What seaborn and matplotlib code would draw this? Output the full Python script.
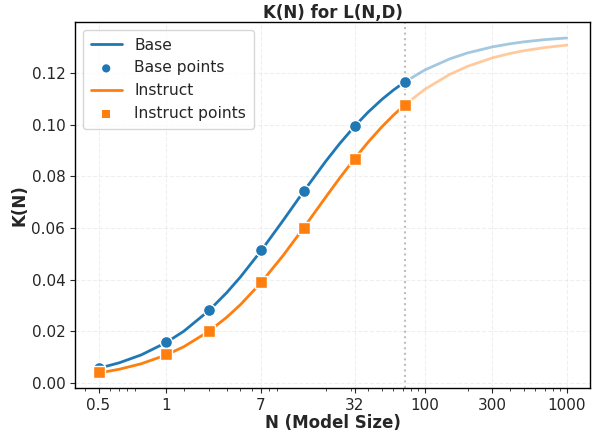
import numpy as np
import pandas as pd
import seaborn as sns
import matplotlib
matplotlib.use("Agg")
import matplotlib.pyplot as plt

# model sizes (B) with measured K(N)
sizes = [0.5, 1.5, 3, 7, 14, 32, 72]
base_points = [0.0058, 0.0160, 0.0281, 0.0514, 0.0743, 0.0995, 0.1165]
instruct_points = [0.0041, 0.0110, 0.0201, 0.0389, 0.0599, 0.0869, 0.1076]

# fitted curves
curve_n = [0.5, 0.7, 1, 1.5, 2, 3, 4, 5, 7, 10, 14, 20, 25, 32, 40, 50, 60, 72,
           100, 150, 200, 300, 400, 500, 700, 1000]
base_curve = [0.00563, 0.00776, 0.01082, 0.0156, 0.02003, 0.02797, 0.03489, 0.04097,
              0.05116, 0.06288, 0.07423, 0.08584, 0.0926, 0.09946, 0.10501, 0.10992,
              0.11345, 0.11658, 0.12126, 0.12557, 0.12785, 0.13021, 0.13142, 0.13216,
              0.13302, 0.13366]
instruct_curve = [0.0038, 0.00526, 0.00739, 0.01079, 0.01401, 0.01997, 0.02535, 0.03025,
                  0.03882, 0.0493, 0.06011, 0.07195, 0.07923, 0.08692, 0.0934, 0.09933,
                  0.10371, 0.10768, 0.11376, 0.11955, 0.12267, 0.12596, 0.12767, 0.12872,
                  0.12994, 0.13088]

max_trained = 72
xticks = [0.5, 1.5, 7, 32, 100, 300, 1000]
xtick_labels = ["0.5", "1", "7", "32", "100", "300", "1000"]

blue = "#1f77b4"
orange = "#ff7f0e"

sns.set_style("ticks")
plt.rcParams["font.family"] = ["DejaVu Sans"]

curves = pd.DataFrame({"N": curve_n, "Base": base_curve, "Instruct": instruct_curve})
points = pd.DataFrame({"N": sizes, "Base": base_points, "Instruct": instruct_points})
seen = curves[curves["N"] <= max_trained]
beyond = curves[curves["N"] >= max_trained]

fig, ax = plt.subplots(figsize=(5.96, 4.34), dpi=100)

sns.lineplot(data=seen, x="N", y="Base", ax=ax, color=blue, lw=2, label="Base")
sns.scatterplot(data=points, x="N", y="Base", ax=ax, color=blue, s=75, marker="o",
                edgecolor="white", linewidth=1, zorder=3, label="Base points")
sns.lineplot(data=seen, x="N", y="Instruct", ax=ax, color=orange, lw=2, label="Instruct")
sns.scatterplot(data=points, x="N", y="Instruct", ax=ax, color=orange, s=70, marker="s",
                edgecolor="white", linewidth=1, zorder=3, label="Instruct points")

# extrapolation past the largest trained model, faded
sns.lineplot(data=beyond, x="N", y="Base", ax=ax, color=blue, lw=2, alpha=0.4)
sns.lineplot(data=beyond, x="N", y="Instruct", ax=ax, color=orange, lw=2, alpha=0.4)

ax.axvline(max_trained, color="gray", ls=":", lw=1.5, alpha=0.5)

ax.set_xscale("log")
ax.set_xticks(xticks)
ax.set_xticklabels(xtick_labels)
ax.set_ylim(-0.002, 0.1398)
ax.tick_params(axis="both", labelsize=11)
ax.grid(True, ls="--", lw=0.8, alpha=0.3)

for s in ax.spines.values():
    s.set_color("black")
    s.set_linewidth(1)

ax.set_xlabel("N (Model Size)", fontsize=12, fontweight="bold", labelpad=1)
ax.set_ylabel("K(N)", fontsize=12, fontweight="bold", labelpad=2)
ax.set_title("K(N) for L(N,D)", fontsize=12, fontweight="bold", pad=3)

leg = ax.legend(loc="upper left", fontsize=11.2, frameon=True, handlelength=2.0,
                borderaxespad=0.5, labelspacing=0.5, borderpad=0.5)
for h in leg.legend_handles:
    if hasattr(h, "set_sizes"):
        h.set_sizes([35])
        h.set_edgecolor("none")

fig.subplots_adjust(left=0.126, right=0.99, top=0.949, bottom=0.106)
fig.savefig("out.png", dpi=100)
